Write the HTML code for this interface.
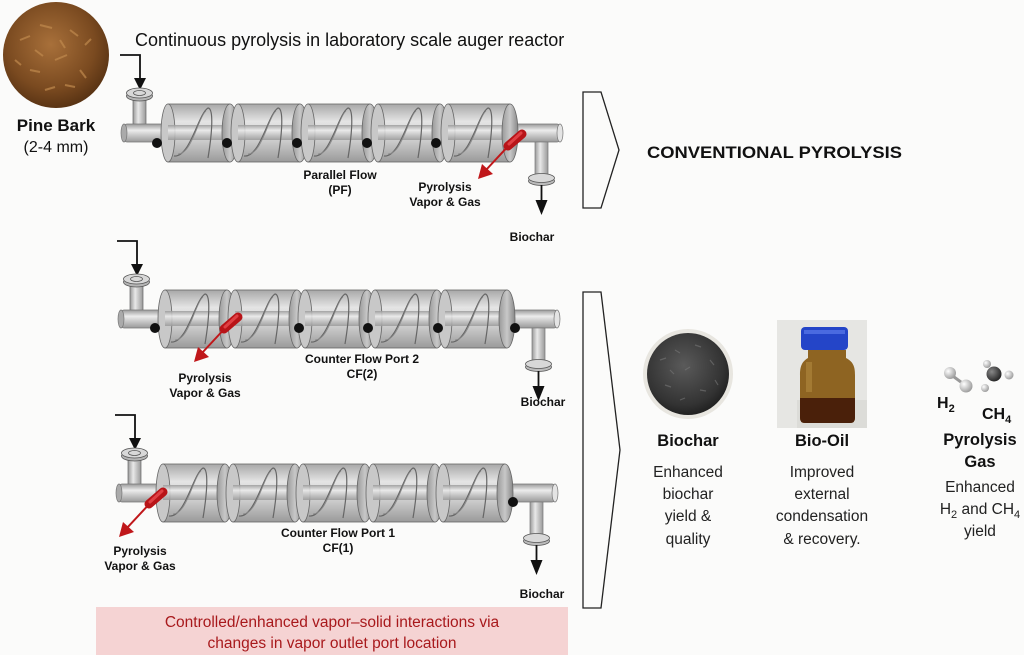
<!DOCTYPE html>
<html><head><meta charset="utf-8"><style>
html,body{margin:0;padding:0;background:#fbfbfa;}
svg{display:block;font-family:"Liberation Sans",Arial,sans-serif;}
</style></head><body>
<svg width="1024" height="655" viewBox="0 0 1024 655" xmlns="http://www.w3.org/2000/svg">
<defs>
<linearGradient id="cyl" x1="0" y1="0" x2="0" y2="1">
<stop offset="0" stop-color="#a8a8a8"/><stop offset="0.3" stop-color="#e4e4e4"/><stop offset="0.6" stop-color="#d0d0d0"/><stop offset="1" stop-color="#9a9a9a"/></linearGradient>
<linearGradient id="pipe" x1="0" y1="0" x2="0" y2="1">
<stop offset="0" stop-color="#999"/><stop offset="0.35" stop-color="#ececec"/><stop offset="1" stop-color="#999"/></linearGradient>
<linearGradient id="vpipe" x1="0" y1="0" x2="1" y2="0">
<stop offset="0" stop-color="#999"/><stop offset="0.4" stop-color="#e8e8e8"/><stop offset="1" stop-color="#999"/></linearGradient>
<linearGradient id="fl" x1="0" y1="0" x2="1" y2="0">
<stop offset="0" stop-color="#999"/><stop offset="0.5" stop-color="#c8c8c8"/><stop offset="1" stop-color="#888"/></linearGradient>
<radialGradient id="bark" cx="0.45" cy="0.4" r="0.6"><stop offset="0" stop-color="#a8703a"/><stop offset="0.7" stop-color="#7a4a20"/><stop offset="1" stop-color="#5a3414"/></radialGradient>
<radialGradient id="char" cx="0.45" cy="0.4" r="0.6"><stop offset="0" stop-color="#5a5a5a"/><stop offset="0.8" stop-color="#333"/><stop offset="1" stop-color="#222"/></radialGradient>
<radialGradient id="hs" cx="0.35" cy="0.35" r="0.7"><stop offset="0" stop-color="#fff"/><stop offset="1" stop-color="#999"/></radialGradient>
<radialGradient id="cs" cx="0.35" cy="0.35" r="0.7"><stop offset="0" stop-color="#888"/><stop offset="1" stop-color="#222"/></radialGradient>
<g id="seg">
<rect x="0" y="0" width="62" height="58" fill="url(#cyl)" stroke="#666" stroke-width="0.8"/>
<ellipse cx="0" cy="29" rx="7" ry="29" fill="#c8c8c8" stroke="#666" stroke-width="0.8"/>
<rect x="0" y="21" width="62" height="15" fill="url(#pipe)" opacity="0.85"/>
<path d="M6,52 C22,54 30,10 40,4 C46,4 44,30 40,54" fill="none" stroke="#666" stroke-width="1.2"/>
<path d="M10,50 C24,50 30,14 38,7" fill="none" stroke="#888" stroke-width="0.8"/>
<ellipse cx="62" cy="29" rx="8" ry="29" fill="url(#fl)" stroke="#666" stroke-width="0.8"/>
</g>
<g id="reactor">
<path d="M120,55 H140 V80" fill="none" stroke="#111" stroke-width="1.8"/>
<path d="M134,78 H146 L140,90 Z" fill="#111"/>
<rect x="133" y="95" width="13" height="32" fill="url(#vpipe)" stroke="#666" stroke-width="0.7"/>
<ellipse cx="139.5" cy="96" rx="13" ry="5" fill="#b5b5b5" stroke="#555" stroke-width="0.8"/>
<ellipse cx="139.5" cy="93" rx="13" ry="5" fill="#d8d8d8" stroke="#555" stroke-width="0.8"/>
<ellipse cx="139.5" cy="93" rx="6" ry="2.5" fill="none" stroke="#555" stroke-width="0.8"/>
<rect x="124" y="124" width="436" height="18" rx="3" fill="url(#pipe)" stroke="#777" stroke-width="0.7"/>
<ellipse cx="124" cy="133" rx="3" ry="9" fill="#aaa" stroke="#777" stroke-width="0.7"/>
<ellipse cx="560" cy="133" rx="3" ry="9" fill="#e4e4e4" stroke="#777" stroke-width="0.7"/>
<use href="#seg" x="168" y="104"/>
<use href="#seg" x="238" y="104"/>
<use href="#seg" x="308" y="104"/>
<use href="#seg" x="378" y="104"/>
<use href="#seg" x="448" y="104"/>
<rect x="535" y="142" width="13" height="36" fill="url(#vpipe)" stroke="#777" stroke-width="0.7"/>
<ellipse cx="541.5" cy="181" rx="13" ry="4.5" fill="#bbb" stroke="#555" stroke-width="0.8"/>
<ellipse cx="541.5" cy="178" rx="13" ry="4.5" fill="#d8d8d8" stroke="#555" stroke-width="0.8"/>
<line x1="541.5" y1="185" x2="541.5" y2="202" stroke="#111" stroke-width="1.8"/>
<path d="M535.5,200 H547.5 L541.5,215 Z" fill="#111"/>
</g>
<g id="vent">
<line x1="0" y1="0" x2="-26" y2="28" stroke="#c0171a" stroke-width="2"/>
<path d="M-34,37 L-30,22 L-19,32 Z" fill="#c0171a"/>
<line x1="-4" y1="4" x2="10" y2="-8" stroke="#b81418" stroke-width="9" stroke-linecap="round"/>
<line x1="-3" y1="2" x2="9" y2="-9" stroke="#e04044" stroke-width="3" stroke-linecap="round"/>
</g>
</defs>

<circle cx="56" cy="55" r="53" fill="url(#bark)"/>
<g stroke="#c08a4e" stroke-width="2" opacity="0.7">
<path d="M20,40 l10,-4 M40,25 l12,3 M70,30 l8,6 M30,70 l10,2 M55,60 l12,-5 M80,70 l6,8 M45,90 l10,-3 M15,60 l6,5 M65,85 l10,2 M85,45 l6,-6 M35,50 l8,6 M60,40 l5,8"/></g>
<text x="56" y="131" font-size="17" font-weight="bold" text-anchor="middle" fill="#111">Pine Bark</text>
<text x="56" y="152" font-size="16" text-anchor="middle" fill="#111">(2-4 mm)</text>
<text x="135" y="46" font-size="18" fill="#111">Continuous pyrolysis in laboratory scale auger reactor</text>

<use href="#reactor"/>
<g fill="#111"><circle cx="157" cy="143" r="5"/><circle cx="227" cy="143" r="5"/><circle cx="297" cy="143" r="5"/><circle cx="367" cy="143" r="5"/><circle cx="436" cy="143" r="5"/></g>
<use href="#vent" x="512" y="142"/>
<text x="340" y="179" font-size="12" font-weight="bold" text-anchor="middle" fill="#111">Parallel Flow</text>
<text x="340" y="194" font-size="12" font-weight="bold" text-anchor="middle" fill="#111">(PF)</text>
<text x="445" y="191" font-size="12" font-weight="bold" text-anchor="middle" fill="#111">Pyrolysis</text>
<text x="445" y="206" font-size="12" font-weight="bold" text-anchor="middle" fill="#111">Vapor &amp; Gas</text>
<text x="532" y="241" font-size="12" font-weight="bold" text-anchor="middle" fill="#111">Biochar</text>

<use href="#reactor" x="-3" y="186"/>
<g fill="#111"><circle cx="155" cy="328" r="5"/><circle cx="299" cy="328" r="5"/><circle cx="368" cy="328" r="5"/><circle cx="438" cy="328" r="5"/><circle cx="515" cy="328" r="5"/></g>
<use href="#vent" x="228" y="325"/>
<text x="362" y="363" font-size="12" font-weight="bold" text-anchor="middle" fill="#111">Counter Flow Port 2</text>
<text x="362" y="378" font-size="12" font-weight="bold" text-anchor="middle" fill="#111">CF(2)</text>
<text x="205" y="382" font-size="12" font-weight="bold" text-anchor="middle" fill="#111">Pyrolysis</text>
<text x="205" y="397" font-size="12" font-weight="bold" text-anchor="middle" fill="#111">Vapor &amp; Gas</text>
<text x="543" y="406" font-size="12" font-weight="bold" text-anchor="middle" fill="#111">Biochar</text>

<use href="#reactor" x="-5" y="360"/>
<circle cx="513" cy="502" r="5" fill="#111"/>
<use href="#vent" x="153" y="500"/>
<text x="338" y="537" font-size="12" font-weight="bold" text-anchor="middle" fill="#111">Counter Flow Port 1</text>
<text x="338" y="552" font-size="12" font-weight="bold" text-anchor="middle" fill="#111">CF(1)</text>
<text x="140" y="555" font-size="12" font-weight="bold" text-anchor="middle" fill="#111">Pyrolysis</text>
<text x="140" y="570" font-size="12" font-weight="bold" text-anchor="middle" fill="#111">Vapor &amp; Gas</text>
<text x="542" y="598" font-size="12" font-weight="bold" text-anchor="middle" fill="#111">Biochar</text>

<rect x="96" y="607" width="472" height="48" fill="#f5d3d3"/>
<text x="332" y="627" font-size="15.5" text-anchor="middle" fill="#a8191c">Controlled/enhanced vapor–solid interactions via</text>
<text x="332" y="648" font-size="15.5" text-anchor="middle" fill="#a8191c">changes in vapor outlet port location</text>

<path d="M583,92 H601 L619,150 L601,208 H583 Z" fill="none" stroke="#222" stroke-width="1.3"/>
<path d="M583,292 H601 L620,450 L601,608 H583 Z" fill="none" stroke="#222" stroke-width="1.3"/>
<text x="647" y="158" font-size="17" font-weight="bold" fill="#111" textLength="255" lengthAdjust="spacingAndGlyphs">CONVENTIONAL PYROLYSIS</text>

<circle cx="688" cy="374" r="45" fill="#e8e6e0"/>
<circle cx="688" cy="374" r="41" fill="url(#char)"/>
<g stroke="#777" stroke-width="1.2" opacity="0.6"><path d="M660,360 l6,-2 M675,350 l5,3 M695,345 l6,2 M710,360 l4,5 M665,385 l6,2 M685,370 l5,-3 M700,390 l6,1 M680,400 l5,-2 M715,380 l3,5 M670,370 l4,4"/></g>
<text x="688" y="446" font-size="16.5" font-weight="bold" text-anchor="middle" fill="#111">Biochar</text>
<g font-size="15.5" text-anchor="middle" fill="#222">
<text x="688" y="477">Enhanced</text><text x="688" y="499">biochar</text><text x="688" y="521">yield &amp;</text><text x="688" y="544">quality</text>
</g>

<rect x="777" y="320" width="90" height="108" fill="#e6e6e3"/>
<rect x="797" y="400" width="70" height="28" fill="#dcdcd8"/>
<path d="M808,350 H846 V358 C854,362 855,368 855,375 V418 Q855,423 850,423 H805 Q800,423 800,418 V375 C800,368 801,362 808,358 Z" fill="#8e6422"/>
<path d="M800,398 H855 V418 Q855,423 850,423 H805 Q800,423 800,418 Z" fill="#4a200a"/>
<rect x="806" y="362" width="6" height="30" fill="#b08840" opacity="0.6"/>
<rect x="801" y="327" width="47" height="23" rx="4" fill="#2445c8"/>
<rect x="804" y="330" width="41" height="4" fill="#4a6ae0"/>
<text x="822" y="446" font-size="16.5" font-weight="bold" text-anchor="middle" fill="#111">Bio-Oil</text>
<g font-size="15.5" text-anchor="middle" fill="#222">
<text x="822" y="477">Improved</text><text x="822" y="499">external</text><text x="822" y="521">condensation</text><text x="822" y="544">&amp; recovery.</text>
</g>

<line x1="950" y1="374" x2="965" y2="385" stroke="#999" stroke-width="3"/>
<circle cx="950" cy="373" r="6" fill="url(#hs)"/><circle cx="966" cy="386" r="6.5" fill="url(#hs)"/>
<circle cx="987" cy="364" r="4" fill="url(#hs)"/><circle cx="1009" cy="375" r="4.5" fill="url(#hs)"/><circle cx="985" cy="388" r="4" fill="url(#hs)"/>
<circle cx="994" cy="374" r="7.5" fill="url(#cs)"/>
<text x="937" y="408" font-size="16" font-weight="bold" fill="#111">H<tspan font-size="11" dy="4">2</tspan></text>
<text x="982" y="419" font-size="16" font-weight="bold" fill="#111">CH<tspan font-size="11" dy="4">4</tspan></text>
<text x="980" y="445" font-size="16.5" font-weight="bold" text-anchor="middle" fill="#111">Pyrolysis</text>
<text x="980" y="467" font-size="16.5" font-weight="bold" text-anchor="middle" fill="#111">Gas</text>
<g font-size="15.5" text-anchor="middle" fill="#222">
<text x="980" y="492">Enhanced</text>
<text x="980" y="514">H<tspan font-size="11" dy="4">2</tspan><tspan dy="-4"> and CH</tspan><tspan font-size="11" dy="4">4</tspan></text>
<text x="980" y="536">yield</text>
</g>
</svg>
</body></html>
